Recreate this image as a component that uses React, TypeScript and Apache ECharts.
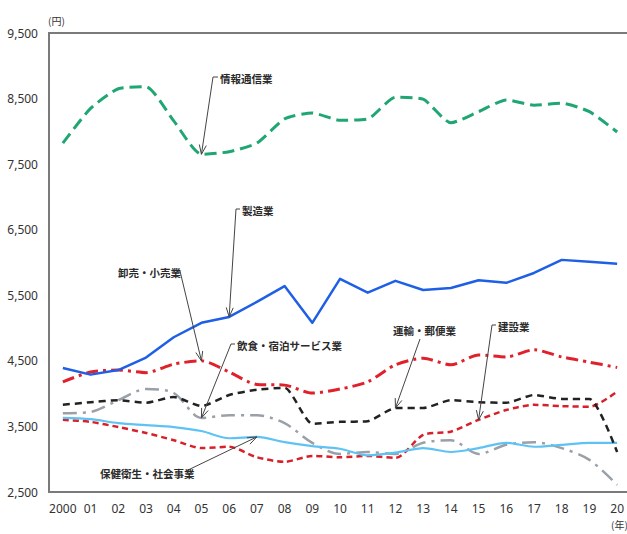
import React, { useEffect, useRef } from 'react';
import * as echarts from 'echarts';

const years = ['2000', '01', '02', '03', '04', '05', '06', '07', '08', '09', '10', '11', '12', '13', '14', '15', '16', '17', '18', '19', '20'];
const yTickLabels: Record<number, string> = { 2500: '2,500', 3500: '3,500', 4500: '4,500', 5500: '5,500', 6500: '6,500', 7500: '7,500', 8500: '8,500', 9500: '9,500' };

const infoComm = [7820, 8350, 8650, 8680, 8160, 7650, 7690, 7820, 8190, 8280, 8170, 8190, 8520, 8490, 8130, 8300, 8480, 8400, 8430, 8300, 7990];
const manufacturing = [4390, 4290, 4360, 4550, 4860, 5080, 5170, 5400, 5640, 5080, 5750, 5540, 5720, 5580, 5610, 5730, 5690, 5840, 6040, 6010, 5980];
const wholesale = [4180, 4330, 4360, 4320, 4450, 4500, 4330, 4140, 4130, 4010, 4070, 4180, 4440, 4540, 4440, 4590, 4560, 4670, 4560, 4480, 4400];
const transport = [3830, 3870, 3900, 3860, 3950, 3810, 3980, 4060, 4090, 3540, 3570, 3580, 3780, 3780, 3900, 3870, 3860, 3980, 3920, 3920, 3110];
const construction = [3600, 3570, 3490, 3400, 3290, 3170, 3190, 3030, 2960, 3050, 3030, 3050, 3020, 3370, 3420, 3600, 3750, 3830, 3810, 3800, 4030];
const foodLodging = [3700, 3720, 3900, 4070, 4010, 3630, 3670, 3670, 3550, 3250, 3080, 3110, 3080, 3250, 3290, 3080, 3220, 3260, 3170, 2990, 2610];
const healthcare = [3630, 3610, 3550, 3520, 3490, 3430, 3320, 3340, 3260, 3200, 3160, 3060, 3100, 3170, 3110, 3170, 3250, 3190, 3220, 3250, 3250];

const seriesNames = ['情報通信業', '製造業', '卸売・小売業', '運輸・郵便業', '建設業', '飲食・宿泊サービス業', '保健衛生・社会事業'];

const JP = '"Noto Sans CJK JP", "Noto Sans", sans-serif';

type Ann = { s: number; idx: number; text: string; tx: number; ty: number; lead: number[][] };
const annotations: Ann[] = [
  { s: 0, idx: 5, text: '情報通信業', tx: 220, ty: 78, lead: [[218, 77], [213, 77]] },
  { s: 1, idx: 6, text: '製造業', tx: 242, ty: 210, lead: [[240, 209], [236, 209]] },
  { s: 2, idx: 5, text: '卸売・小売業', tx: 118, ty: 272, lead: [[176, 271], [180, 271]] },
  { s: 5, idx: 5, text: '飲食・宿泊サービス業', tx: 237, ty: 345, lead: [[235, 344], [231, 344]] },
  { s: 3, idx: 12, text: '運輸・郵便業', tx: 393, ty: 330, lead: [[420, 339]] },
  { s: 4, idx: 15, text: '建設業', tx: 498, ty: 326, lead: [[496, 325], [492, 325]] },
  { s: 6, idx: 7, text: '保健衛生・社会事業', tx: 100, ty: 473, lead: [[186, 471]] },
];

function line(name: string, data: number[], color: string, width: number, type: any, smooth: number | boolean, z: number) {
  return {
    name, type: 'line', data, symbol: 'none', smooth, z,
    lineStyle: { color, width, type, cap: 'butt', join: 'round' },
  };
}

export default function App() {
  const ref = useRef<HTMLDivElement>(null);
  useEffect(() => {
    const chart = echarts.init(ref.current!, null, { renderer: 'svg' });
    const option: any = {
      animation: false,
      backgroundColor: '#fff',
      grid: { left: 49, top: 33, width: 582, height: 459, show: true, borderColor: '#7a7a7a', borderWidth: 2, backgroundColor: 'transparent' },
      xAxis: {
        type: 'category', data: years, boundaryGap: true,
        axisLine: { show: false }, axisTick: { show: false }, splitLine: { show: false },
        axisLabel: { color: '#333', fontSize: 12, margin: 10, fontFamily: '"Noto Sans", sans-serif', interval: 0 },
      },
      yAxis: {
        type: 'value', min: 2500, max: 9500, interval: 500,
        axisLine: { show: false }, axisTick: { show: false }, splitLine: { show: false },
        axisLabel: {
          color: '#333', fontSize: 12, margin: 11, fontFamily: '"Noto Sans", sans-serif',
          formatter: (v: number) => yTickLabels[v] ?? '',
        },
      },
      series: [
        line(seriesNames[0], infoComm, '#20a673', 3, [12, 6], 0.2, 5),
        line(seriesNames[1], manufacturing, '#1f5fe6', 2.5, 'solid', false, 6),
        line(seriesNames[2], wholesale, '#e0202a', 3, [12, 5, 3, 5], 0.25, 4),
        line(seriesNames[3], transport, '#222222', 2.5, [7, 5], 0.2, 3),
        line(seriesNames[4], construction, '#d8202a', 2.5, [6, 4], 0.25, 2),
        line(seriesNames[5], foodLodging, '#9aa0a8', 2.5, [14, 6, 3, 6], 0.3, 1),
        line(seriesNames[6], healthcare, '#5ec3f2', 2.2, 'solid', 0.3, 2),
      ],
    };
    chart.setOption(option);

    const graphics: any[] = [
      { type: 'text', left: 48, top: 15, style: { text: '(円)', fontSize: 10, fill: '#333', fontFamily: JP } },
      { type: 'text', left: 611, top: 519, style: { text: '(年)', fontSize: 10, fill: '#333', fontFamily: JP } },
    ];
    annotations.forEach((a) => {
      const tip = chart.convertToPixel({ seriesIndex: a.s }, [a.idx, option.series[a.s].data[a.idx]]) as number[];
      const pts = [...a.lead, tip];
      const prev = pts[pts.length - 2];
      const dx = tip[0] - prev[0], dy = tip[1] - prev[1];
      const len = Math.hypot(dx, dy) || 1;
      const ux = dx / len, uy = dy / len;
      const L = 10, th = 0.36;
      const c = Math.cos(th), s = Math.sin(th);
      const h1 = [tip[0] - L * (ux * c - uy * s), tip[1] - L * (uy * c + ux * s)];
      const h2 = [tip[0] - L * (ux * c + uy * s), tip[1] - L * (uy * c - ux * s)];
      graphics.push({ type: 'polyline', z: 100, shape: { points: pts }, style: { stroke: '#444', lineWidth: 1, fill: null } });
      graphics.push({ type: 'polyline', z: 100, shape: { points: [h1, tip, h2] }, style: { stroke: '#444', lineWidth: 1, fill: null } });
      graphics.push({
        type: 'text', z: 101, x: a.tx, y: a.ty,
        style: { text: a.text, fontSize: 10.5, fill: '#2a2a2a', fontFamily: JP, verticalAlign: 'middle', align: 'left', fontWeight: 'bold' },
      });
    });
    chart.setOption({ graphic: graphics });
    return () => chart.dispose();
  }, []);
  return (
    <div style={{ position: 'fixed', left: 0, top: 0, width: 627, height: 534, overflow: 'hidden', background: '#fff' }}>
      <div ref={ref} style={{ width: 640, height: 534 }} />
    </div>
  );
}
